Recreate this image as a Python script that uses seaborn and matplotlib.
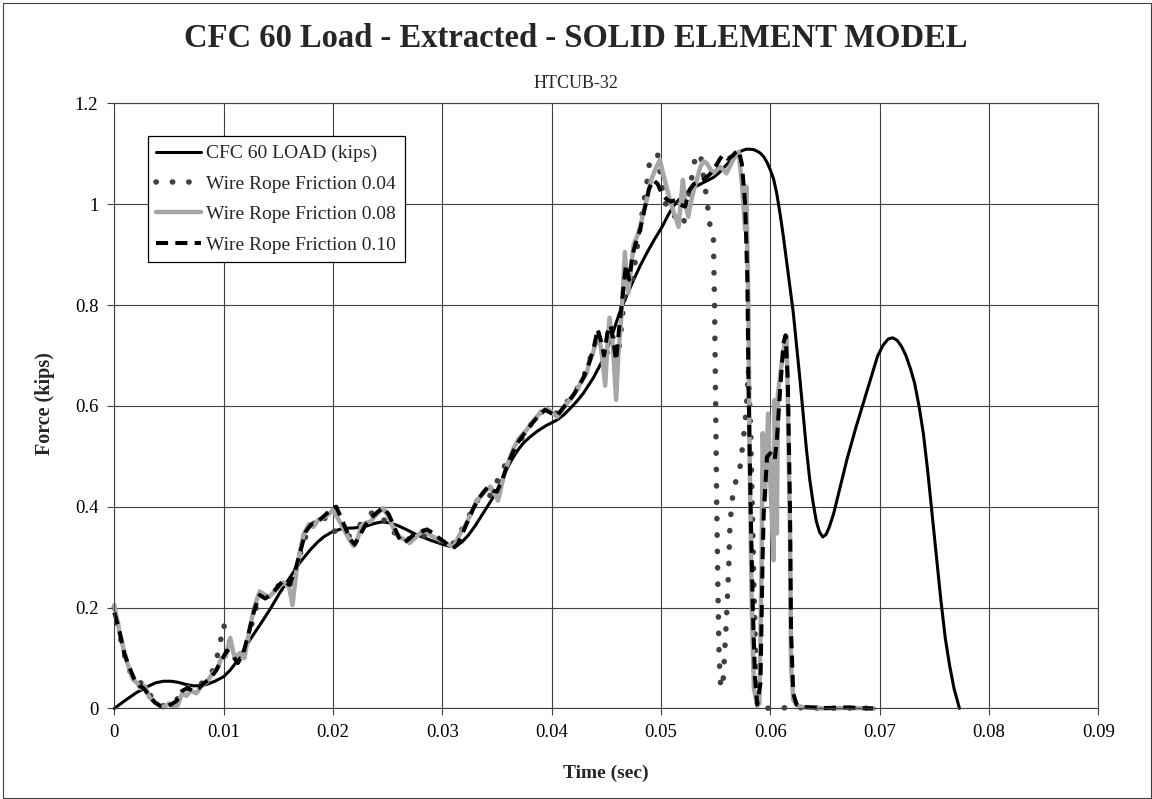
import matplotlib
matplotlib.use("Agg")
import matplotlib.pyplot as plt
import seaborn as sns
from matplotlib.patches import Rectangle

# ---- data ----
t_cfc = [0.0000, 0.0010, 0.0020, 0.0030, 0.0038, 0.0045, 0.0052, 0.0058, 0.0065, 0.0072,
         0.0079, 0.0085, 0.0092, 0.0100, 0.0106, 0.0112, 0.0118, 0.0124, 0.0133, 0.0142,
         0.0151, 0.0161, 0.0170, 0.0179, 0.0186, 0.0192, 0.0200, 0.0209, 0.0220, 0.0231,
         0.0238, 0.0245, 0.0252, 0.0259, 0.0266, 0.0277, 0.0290, 0.0301, 0.0308, 0.0313,
         0.0318, 0.0324, 0.0330, 0.0337, 0.0344, 0.0350, 0.0355, 0.0359, 0.0364, 0.0369,
         0.0374, 0.0380, 0.0387, 0.0395, 0.0405, 0.0411, 0.0417, 0.0423, 0.0429, 0.0438,
         0.0447, 0.0455, 0.0462, 0.0468, 0.0475, 0.0481, 0.0487, 0.0494, 0.0501, 0.0506,
         0.0511, 0.0516, 0.0522, 0.0530, 0.0540, 0.0548, 0.0553, 0.0559, 0.0566, 0.0570,
         0.0574, 0.0578, 0.0581, 0.0585, 0.0588, 0.0591, 0.0594, 0.0597, 0.0600, 0.0603,
         0.0606, 0.0609, 0.0612, 0.0615, 0.0618, 0.0621, 0.0624, 0.0627, 0.0630, 0.0633,
         0.0636, 0.0639, 0.0642, 0.0645, 0.0648, 0.0651, 0.0654, 0.0658, 0.0664, 0.0670,
         0.0678, 0.0685, 0.0692, 0.0698, 0.0703, 0.0708, 0.0712, 0.0716, 0.0720, 0.0724,
         0.0728, 0.0732, 0.0736, 0.0740, 0.0744, 0.0748, 0.0752, 0.0756, 0.0760, 0.0764,
         0.0768, 0.0773]
f_cfc = [0.000, 0.016, 0.031, 0.043, 0.051, 0.054, 0.054, 0.052, 0.048, 0.045,
         0.045, 0.048, 0.054, 0.063, 0.076, 0.093, 0.114, 0.136, 0.165, 0.195,
         0.228, 0.261, 0.290, 0.314, 0.330, 0.341, 0.351, 0.357, 0.358, 0.362,
         0.367, 0.370, 0.368, 0.363, 0.356, 0.344, 0.333, 0.325, 0.321, 0.323,
         0.330, 0.344, 0.362, 0.386, 0.410, 0.432, 0.455, 0.475, 0.495, 0.512,
         0.526, 0.538, 0.550, 0.561, 0.572, 0.582, 0.595, 0.609, 0.625, 0.655,
         0.692, 0.738, 0.784, 0.815, 0.850, 0.878, 0.903, 0.930, 0.955, 0.976,
         0.995, 1.008, 1.020, 1.033, 1.044, 1.053, 1.062, 1.076, 1.092, 1.101,
         1.106, 1.109, 1.109, 1.108, 1.105, 1.101, 1.094, 1.083, 1.068, 1.050,
         1.020, 0.980, 0.935, 0.885, 0.835, 0.785, 0.720, 0.655, 0.585, 0.515,
         0.455, 0.410, 0.372, 0.350, 0.340, 0.345, 0.360, 0.387, 0.440, 0.493,
         0.555, 0.605, 0.655, 0.698, 0.720, 0.733, 0.735, 0.730, 0.718, 0.700,
         0.675, 0.645, 0.600, 0.545, 0.470, 0.385, 0.300, 0.215, 0.140, 0.085,
         0.040, 0.000]

t_w04 = [0.0000, 0.0005, 0.0010, 0.0015, 0.0020, 0.0025, 0.0030, 0.0035, 0.0040, 0.0045,
         0.0050, 0.0055, 0.0060, 0.0065, 0.0070, 0.0075, 0.0080, 0.0085, 0.0090, 0.0095,
         0.0100, 0.0104, 0.0108, 0.0112, 0.0117, 0.0122, 0.0127, 0.0132, 0.0137, 0.0142,
         0.0148, 0.0153, 0.0158, 0.0163, 0.0168, 0.0173, 0.0178, 0.0183, 0.0187, 0.0190,
         0.0195, 0.0200, 0.0204, 0.0208, 0.0213, 0.0218, 0.0223, 0.0228, 0.0233, 0.0238,
         0.0243, 0.0248, 0.0253, 0.0258, 0.0263, 0.0268, 0.0274, 0.0280, 0.0286, 0.0292,
         0.0298, 0.0303, 0.0308, 0.0313, 0.0318, 0.0323, 0.0328, 0.0333, 0.0338, 0.0343,
         0.0348, 0.0353, 0.0358, 0.0363, 0.0368, 0.0374, 0.0380, 0.0386, 0.0392, 0.0398,
         0.0404, 0.0410, 0.0416, 0.0422, 0.0428, 0.0433, 0.0437, 0.0441, 0.0445, 0.0449,
         0.0453, 0.0457, 0.0461, 0.0464, 0.0467, 0.0470, 0.0473, 0.0476, 0.0480, 0.0484,
         0.0487, 0.0490, 0.0494, 0.0497, 0.0500, 0.0504, 0.0508, 0.0512, 0.0516, 0.0520,
         0.0523, 0.0526, 0.0530, 0.0533, 0.0536, 0.0539, 0.0542, 0.0545, 0.0548, 0.0549,
         0.0550, 0.0551, 0.0552, 0.0553, 0.0554, 0.0555, 0.0557, 0.0559, 0.0560, 0.0562,
         0.0563, 0.0565, 0.0568, 0.0572, 0.0575, 0.0578, 0.0580, 0.0582, 0.0584, 0.0586,
         0.0588, 0.0590, 0.0600, 0.0620, 0.0650, 0.0680, 0.0695]
f_w04 = [0.200, 0.145, 0.100, 0.070, 0.055, 0.050, 0.035, 0.020, 0.010, 0.005,
         0.008, 0.012, 0.025, 0.040, 0.045, 0.040, 0.050, 0.060, 0.075, 0.110,
         0.166, 0.140, 0.120, 0.100, 0.090, 0.130, 0.180, 0.215, 0.220, 0.228,
         0.240, 0.248, 0.240, 0.250, 0.290, 0.330, 0.355, 0.368, 0.380, 0.384,
         0.370, 0.354, 0.348, 0.341, 0.340, 0.345, 0.360, 0.372, 0.385, 0.390,
         0.385, 0.370, 0.355, 0.345, 0.338, 0.335, 0.340, 0.345, 0.340, 0.338,
         0.332, 0.326, 0.322, 0.335, 0.355, 0.375, 0.398, 0.415, 0.425, 0.420,
         0.440, 0.465, 0.485, 0.500, 0.520, 0.540, 0.560, 0.578, 0.590, 0.592,
         0.585, 0.600, 0.612, 0.630, 0.650, 0.680, 0.705, 0.730, 0.715, 0.690,
         0.725, 0.740, 0.700, 0.760, 0.830, 0.870, 0.840, 0.880, 0.940, 1.000,
         1.040, 1.090, 1.098, 1.098, 1.050, 1.002, 0.990, 0.975, 0.985, 0.970,
         0.962, 1.020, 1.081, 1.095, 1.101, 1.055, 1.008, 0.955, 0.929, 0.800,
         0.600, 0.400, 0.250, 0.120, 0.060, 0.040, 0.060, 0.140, 0.182, 0.281,
         0.360, 0.413, 0.447, 0.473, 0.526, 0.592, 0.671, 0.550, 0.350, 0.150,
         0.030, 0.003, 0.000, 0.002, 0.000, 0.001, 0.000]

t_w08 = [0.0000, 0.0005, 0.0011, 0.0017, 0.0021, 0.0024, 0.0028, 0.0032, 0.0036, 0.0040,
         0.0045, 0.0050, 0.0054, 0.0058, 0.0062, 0.0066, 0.0070, 0.0075, 0.0080, 0.0085,
         0.0090, 0.0094, 0.0098, 0.0102, 0.0106, 0.0110, 0.0115, 0.0119, 0.0124, 0.0128,
         0.0133, 0.0138, 0.0142, 0.0148, 0.0155, 0.0160, 0.0163, 0.0167, 0.0173, 0.0178,
         0.0182, 0.0187, 0.0191, 0.0196, 0.0200, 0.0205, 0.0210, 0.0215, 0.0219, 0.0223,
         0.0226, 0.0230, 0.0234, 0.0240, 0.0246, 0.0251, 0.0255, 0.0261, 0.0266, 0.0270,
         0.0276, 0.0283, 0.0288, 0.0292, 0.0297, 0.0301, 0.0306, 0.0310, 0.0316, 0.0322,
         0.0327, 0.0331, 0.0338, 0.0344, 0.0348, 0.0351, 0.0355, 0.0359, 0.0365, 0.0370,
         0.0377, 0.0383, 0.0389, 0.0395, 0.0400, 0.0405, 0.0410, 0.0414, 0.0419, 0.0423,
         0.0428, 0.0432, 0.0435, 0.0438, 0.0441, 0.0443, 0.0446, 0.0449, 0.0451, 0.0453,
         0.0456, 0.0459, 0.0461, 0.0464, 0.0467, 0.0470, 0.0473, 0.0475, 0.0478, 0.0481,
         0.0484, 0.0487, 0.0491, 0.0495, 0.0499, 0.0502, 0.0505, 0.0508, 0.0511, 0.0514,
         0.0516, 0.0518, 0.0520, 0.0522, 0.0525, 0.0527, 0.0530, 0.0533, 0.0536, 0.0539,
         0.0542, 0.0545, 0.0548, 0.0551, 0.0554, 0.0557, 0.0560, 0.0563, 0.0566, 0.0569,
         0.0571, 0.0574, 0.0577, 0.0578, 0.0580, 0.0581, 0.0583, 0.0585, 0.0588, 0.0590,
         0.0592, 0.0593, 0.0595, 0.0598, 0.0600, 0.0603, 0.0604, 0.0606, 0.0607, 0.0610,
         0.0613, 0.0615, 0.0616, 0.0618, 0.0619, 0.0621, 0.0624, 0.0630, 0.0650, 0.0670,
         0.0695]
f_w08 = [0.205, 0.150, 0.096, 0.058, 0.050, 0.040, 0.045, 0.022, 0.015, 0.008,
         0.002, 0.010, 0.003, 0.006, 0.030, 0.025, 0.035, 0.030, 0.045, 0.053,
         0.070, 0.078, 0.100, 0.103, 0.140, 0.100, 0.110, 0.100, 0.160, 0.200,
         0.232, 0.225, 0.222, 0.235, 0.250, 0.240, 0.205, 0.280, 0.345, 0.365,
         0.360, 0.375, 0.378, 0.385, 0.394, 0.375, 0.355, 0.335, 0.322, 0.340,
         0.362, 0.368, 0.370, 0.385, 0.397, 0.380, 0.358, 0.340, 0.334, 0.328,
         0.340, 0.354, 0.345, 0.340, 0.336, 0.331, 0.325, 0.320, 0.345, 0.367,
         0.390, 0.410, 0.428, 0.440, 0.425, 0.412, 0.450, 0.480, 0.515, 0.535,
         0.552, 0.570, 0.585, 0.595, 0.588, 0.578, 0.592, 0.605, 0.618, 0.632,
         0.650, 0.665, 0.690, 0.705, 0.735, 0.745, 0.700, 0.640, 0.720, 0.775,
         0.720, 0.612, 0.700, 0.784, 0.905, 0.823, 0.880, 0.920, 0.935, 0.955,
         0.985, 1.008, 1.048, 1.070, 1.088, 1.060, 1.035, 1.010, 0.988, 0.970,
         0.955, 1.000, 1.048, 1.010, 0.975, 1.000, 1.028, 1.050, 1.074, 1.085,
         1.081, 1.070, 1.061, 1.068, 1.074, 1.068, 1.061, 1.075, 1.088, 1.098,
         1.104, 1.041, 0.949, 1.035, 0.800, 0.513, 0.200, 0.040, 0.005, 0.010,
         0.281, 0.546, 0.413, 0.585, 0.450, 0.294, 0.612, 0.347, 0.625, 0.678,
         0.724, 0.737, 0.612, 0.347, 0.083, 0.017, 0.007, 0.002, 0.000, 0.001,
         0.000]

t_w10 = [0.0000, 0.0004, 0.0009, 0.0014, 0.0018, 0.0023, 0.0027, 0.0032, 0.0037, 0.0042,
         0.0047, 0.0052, 0.0057, 0.0062, 0.0067, 0.0072, 0.0077, 0.0082, 0.0088, 0.0093,
         0.0098, 0.0103, 0.0108, 0.0113, 0.0118, 0.0123, 0.0128, 0.0133, 0.0138, 0.0143,
         0.0149, 0.0155, 0.0160, 0.0165, 0.0170, 0.0175, 0.0180, 0.0186, 0.0191, 0.0196,
         0.0200, 0.0203, 0.0207, 0.0212, 0.0216, 0.0220, 0.0225, 0.0230, 0.0236, 0.0241,
         0.0246, 0.0251, 0.0256, 0.0260, 0.0264, 0.0269, 0.0274, 0.0280, 0.0286, 0.0292,
         0.0297, 0.0302, 0.0306, 0.0310, 0.0314, 0.0318, 0.0323, 0.0328, 0.0333, 0.0338,
         0.0342, 0.0346, 0.0350, 0.0355, 0.0360, 0.0365, 0.0370, 0.0376, 0.0382, 0.0388,
         0.0394, 0.0400, 0.0405, 0.0410, 0.0415, 0.0420, 0.0425, 0.0430, 0.0435, 0.0439,
         0.0442, 0.0445, 0.0448, 0.0451, 0.0454, 0.0457, 0.0459, 0.0462, 0.0465, 0.0468,
         0.0471, 0.0474, 0.0478, 0.0481, 0.0485, 0.0489, 0.0493, 0.0497, 0.0501, 0.0505,
         0.0509, 0.0513, 0.0517, 0.0522, 0.0526, 0.0530, 0.0535, 0.0540, 0.0545, 0.0550,
         0.0554, 0.0557, 0.0561, 0.0565, 0.0568, 0.0571, 0.0574, 0.0577, 0.0579, 0.0580,
         0.0582, 0.0584, 0.0586, 0.0588, 0.0591, 0.0593, 0.0594, 0.0597, 0.0600, 0.0604,
         0.0606, 0.0609, 0.0612, 0.0614, 0.0616, 0.0618, 0.0619, 0.0621, 0.0624, 0.0630,
         0.0650, 0.0670, 0.0694]
f_w10 = [0.190, 0.160, 0.110, 0.080, 0.060, 0.045, 0.040, 0.025, 0.012, 0.005,
         0.004, 0.008, 0.015, 0.035, 0.040, 0.035, 0.040, 0.050, 0.060, 0.075,
         0.095, 0.115, 0.105, 0.090, 0.110, 0.150, 0.195, 0.225, 0.218, 0.225,
         0.240, 0.255, 0.245, 0.270, 0.310, 0.350, 0.365, 0.370, 0.380, 0.390,
         0.398, 0.400, 0.380, 0.355, 0.335, 0.325, 0.345, 0.365, 0.380, 0.390,
         0.398, 0.385, 0.360, 0.340, 0.328, 0.335, 0.345, 0.350, 0.355, 0.347,
         0.338, 0.330, 0.322, 0.318, 0.325, 0.345, 0.370, 0.395, 0.415, 0.430,
         0.440, 0.432, 0.430, 0.455, 0.485, 0.510, 0.530, 0.548, 0.565, 0.580,
         0.592, 0.585, 0.580, 0.595, 0.608, 0.622, 0.640, 0.660, 0.690, 0.720,
         0.752, 0.730, 0.700, 0.745, 0.760, 0.720, 0.690, 0.760, 0.820, 0.880,
         0.850, 0.900, 0.930, 0.950, 0.990, 1.030, 1.048, 1.040, 1.020, 1.010,
         1.005, 1.008, 1.000, 0.995, 1.028, 1.040, 1.045, 1.050, 1.060, 1.075,
         1.090, 1.098, 1.090, 1.095, 1.102, 1.107, 1.080, 1.000, 0.850, 0.650,
         0.400, 0.200, 0.060, 0.008, 0.050, 0.300, 0.387, 0.499, 0.506, 0.493,
         0.532, 0.632, 0.724, 0.740, 0.650, 0.400, 0.150, 0.030, 0.008, 0.003,
         0.001, 0.002, 0.000]

x_ticks = [0, 0.01, 0.02, 0.03, 0.04, 0.05, 0.06, 0.07, 0.08, 0.09]
x_labels = ["0", "0.01", "0.02", "0.03", "0.04", "0.05", "0.06", "0.07", "0.08", "0.09"]
y_ticks = [0, 0.2, 0.4, 0.6, 0.8, 1.0, 1.2]
y_labels = ["0", "0.2", "0.4", "0.6", "0.8", "1", "1.2"]

sns.set_theme(style="white")
plt.rcParams["font.family"] = ["Liberation Serif", "DejaVu Serif"]

fig = plt.figure(figsize=(11.52, 7.99), dpi=100)
ax = fig.add_axes([0.0992, 0.1133, 0.8542, 0.7574])

sns.lineplot(x=t_cfc, y=f_cfc, ax=ax, sort=False, estimator=None, color="black",
             lw=2.2, label="CFC 60 LOAD (kips)", clip_on=False)
sns.lineplot(x=t_w04, y=f_w04, ax=ax, sort=False, estimator=None, color="#404040",
             lw=4.0, linestyle=(0, (0.05, 2.9)), dash_capstyle="round",
             label="Wire Rope Friction 0.04", clip_on=False)
sns.lineplot(x=t_w08, y=f_w08, ax=ax, sort=False, estimator=None, color="#a6a6a6",
             lw=3.2, label="Wire Rope Friction 0.08", clip_on=False)
sns.lineplot(x=t_w10, y=f_w10, ax=ax, sort=False, estimator=None, color="black",
             lw=2.9, linestyle=(0, (3.0, 1.8)), label="Wire Rope Friction 0.10",
             clip_on=False)

ax.set_xlim(0, 0.09)
ax.set_ylim(0, 1.2)
ax.set_xticks(x_ticks, x_labels)
ax.set_yticks(y_ticks, y_labels)
ax.grid(True, color="#404040", lw=0.8)
ax.set_axisbelow(True)
for s in ax.spines.values():
    s.set_color("#404040")
    s.set_linewidth(0.8)
ax.tick_params(bottom=True, left=True, direction="out", length=5, width=0.8,
               color="#404040", labelsize=13.5, pad=6.5, labelcolor="black")
ax.set_xlabel("")
ax.set_ylabel("")

leg = ax.legend(loc="upper left", bbox_to_anchor=(0.034, 0.946), borderaxespad=0,
                frameon=True, fancybox=False, framealpha=1, edgecolor="black",
                fontsize=14, handlelength=2.3, handletextpad=0.25, labelspacing=0.66,
                borderpad=0.45)
leg.get_frame().set_linewidth(0.9)

fig.text(0.5, 0.941, "CFC 60 Load - Extracted - SOLID ELEMENT MODEL", ha="center",
         va="baseline", fontsize=23.5, fontweight="bold")
fig.text(0.5, 0.89, "HTCUB-32", ha="center", va="baseline", fontsize=13)
fig.text(0.5263, 0.0325, "Time (sec)", ha="center", va="center", fontsize=14,
         fontweight="bold")
fig.text(0.039, 0.495, "Force (kips)", ha="center", va="center", fontsize=14.5,
         fontweight="bold", rotation=90)

fig.patches.append(Rectangle((0.0022, 0.0015), 0.9965, 0.995, transform=fig.transFigure,
                             fill=False, edgecolor="#404040", lw=0.8))

fig.savefig("out.png", dpi=100)
